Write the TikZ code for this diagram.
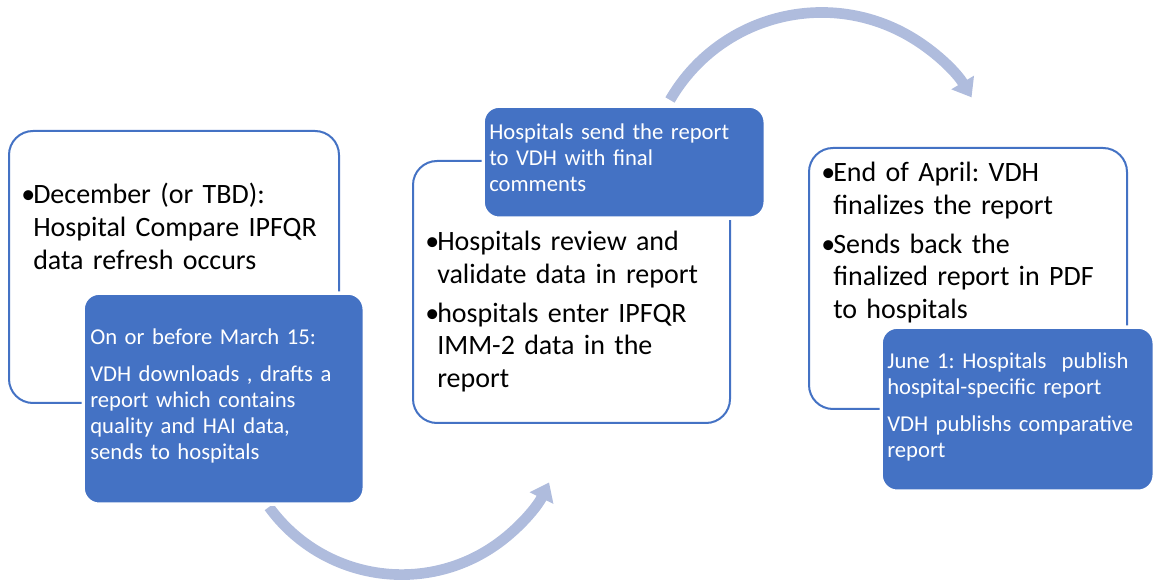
\documentclass[tikz,border=0pt]{standalone}
\usepackage{fontspec}
\setmainfont{Carlito}
\frenchspacing
\usetikzlibrary{arrows.meta}
\definecolor{boxblue}{RGB}{68,114,196}
\definecolor{arcblue}{RGB}{175,188,221}
\newcommand{\bitem}[1]{\par\hangindent=9pt\hangafter=1\noindent\makebox[9pt][l]{•}#1\par\vspace{4.5pt}}
\tikzset{
  wbox/.style={draw=boxblue, line width=1.5pt, fill=white, rounded corners=18pt, inner sep=0pt, anchor=north west},
  bbox/.style={draw=white, line width=2.5pt, fill=boxblue, rounded corners=12pt, inner sep=0pt, anchor=north west},
  wtxt/.style={anchor=north west, inner sep=0pt, align=left, text width=240pt, font=\fontsize{21}{24.5}\selectfont},
  btxt/.style={anchor=base west, inner sep=0pt, align=left, text width=205pt, text=white, font=\fontsize{17}{19.5}\selectfont},
  cyc/.style={draw=arcblue, line width=8pt, -{Triangle[width=19pt,length=13pt]}}
}
\begin{document}
\begin{tikzpicture}[x=0.75pt,y=-0.75pt]
\useasboundingbox (0,0) rectangle (1153,580);
% arrows between the stages
\coordinate (topstart) at (670,100);
\coordinate (botstart) at (269,507);
\draw[cyc] (topstart) arc[start angle=-150, end angle=-31, radius=175];
\draw[cyc] (botstart) arc[start angle=144, end angle=26, radius=164];
% stage 1
\node[wbox, minimum width=247.5pt, minimum height=204pt] (w1) at (8,130) {};
\node[bbox, minimum width=210.75pt, minimum height=158.25pt] (b1) at (81.5,291.5) {};
\node[wtxt] (t1) at (21,171) {\bitem{December (or TBD):\newline Hospital Compare IPFQR\newline data refresh occurs}};
\node[btxt] (s1) at (90,345) {On or before March 15:\par\vspace{8pt}
VDH downloads , drafts a\\ report which contains\\ quality and HAI data,\\ sends to hospitals};
% stage 2
\node[wbox, minimum width=237.75pt, minimum height=196.5pt] (w2) at (412,160) {};
\node[bbox, minimum width=211.5pt, minimum height=84pt] (b2) at (481.5,104.5) {};
\node[wtxt] (t2) at (425,218) {\bitem{Hospitals review and\newline validate data in report}
\bitem{hospitals enter IPFQR\newline IMM-2 data in the\newline report}};
\node[btxt] (s2) at (489,140) {Hospitals send the report\\ to VDH with final\\ comments};
% stage 3
\node[wbox, minimum width=238.5pt, minimum height=195.75pt] (w3) at (808,147) {};
\node[bbox, minimum width=204.75pt, minimum height=123pt] (b3) at (879.5,325.5) {};
\node[wtxt] (t3) at (821,149) {\bitem{End of April: VDH\newline finalizes the report}
\bitem{Sends back the\newline finalized report in PDF\newline to hospitals}};
\node[btxt] (s3) at (887,369) {June 1: Hospitals~ publish\\ hospital-specific report\par\vspace{8pt}
VDH publishs comparative\\ report};
\end{tikzpicture}
\end{document}
